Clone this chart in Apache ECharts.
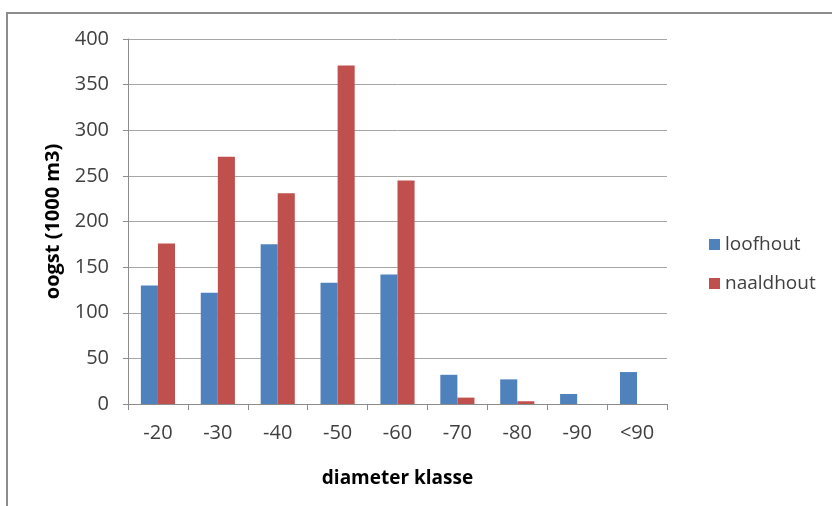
<!DOCTYPE html>
<html><head><meta charset="utf-8">
<script src="https://cdn.jsdelivr.net/npm/echarts@6/dist/echarts.min.js"></script>
<style>html,body{margin:0;padding:0;background:#fff}#c{width:832px;height:506px}</style>
</head><body><div id="c"></div>
<script>
var categories = ['-20','-30','-40','-50','-60','-70','-80','-90','<90'];
var loofhout = [130,122,175,133,142,32,27,11,35];
var naaldhout = [176,271,231,371,245,7,3,0,0];
var seriesNames = ['loofhout','naaldhout'];
var yTicks = {min:0,max:400,interval:50};

var chart = echarts.init(document.getElementById('c'),null,{renderer:'canvas'});
var font = '"Open Sans", "Liberation Sans", sans-serif';
chart.setOption({
  animation:false,
  textStyle:{fontFamily:font},
  graphic:[{type:'rect',shape:{x:7,y:13,width:840,height:520},style:{fill:'none',stroke:'#8c8c8c',lineWidth:2},silent:true}],
  grid:{left:128,right:165,top:39,bottom:102,containLabel:false},
  legend:{
    orient:'vertical',left:704,top:230,itemWidth:11,itemHeight:11,itemGap:20,
    icon:'rect',textStyle:{fontSize:19,color:'#404040',fontFamily:font},
    data:seriesNames
  },
  xAxis:{
    type:'category',data:categories,
    name:'diameter klasse',nameLocation:'middle',nameGap:65,
    nameTextStyle:{fontSize:19,fontWeight:'bold',color:'#000',fontFamily:font},
    axisLine:{lineStyle:{color:'#8c8c8c',width:1}},
    axisTick:{show:true,length:6,lineStyle:{color:'#8c8c8c'}},
    axisLabel:{fontSize:20,color:'#404040',margin:19,fontFamily:font}
  },
  yAxis:{
    type:'value',min:yTicks.min,max:yTicks.max,interval:yTicks.interval,
    name:'oogst (1000 m3)',nameLocation:'middle',nameGap:62,nameRotate:90,
    nameTextStyle:{fontSize:20,fontWeight:'bold',color:'#000',fontFamily:font},
    axisLine:{show:true,lineStyle:{color:'#8c8c8c',width:1}},
    axisTick:{show:true,length:5,lineStyle:{color:'#8c8c8c'}},
    axisLabel:{fontSize:20,color:'#404040',margin:19,fontFamily:font},
    splitLine:{lineStyle:{color:'#a6a6a6',width:1}}
  },
  series:[
    {name:seriesNames[0],type:'bar',data:loofhout,itemStyle:{color:'#4F81BD'},barGap:'0%',barCategoryGap:'43%'},
    {name:seriesNames[1],type:'bar',data:naaldhout,itemStyle:{color:'#C0504D'},barGap:'0%',barCategoryGap:'43%'}
  ]
});
</script></body></html>
